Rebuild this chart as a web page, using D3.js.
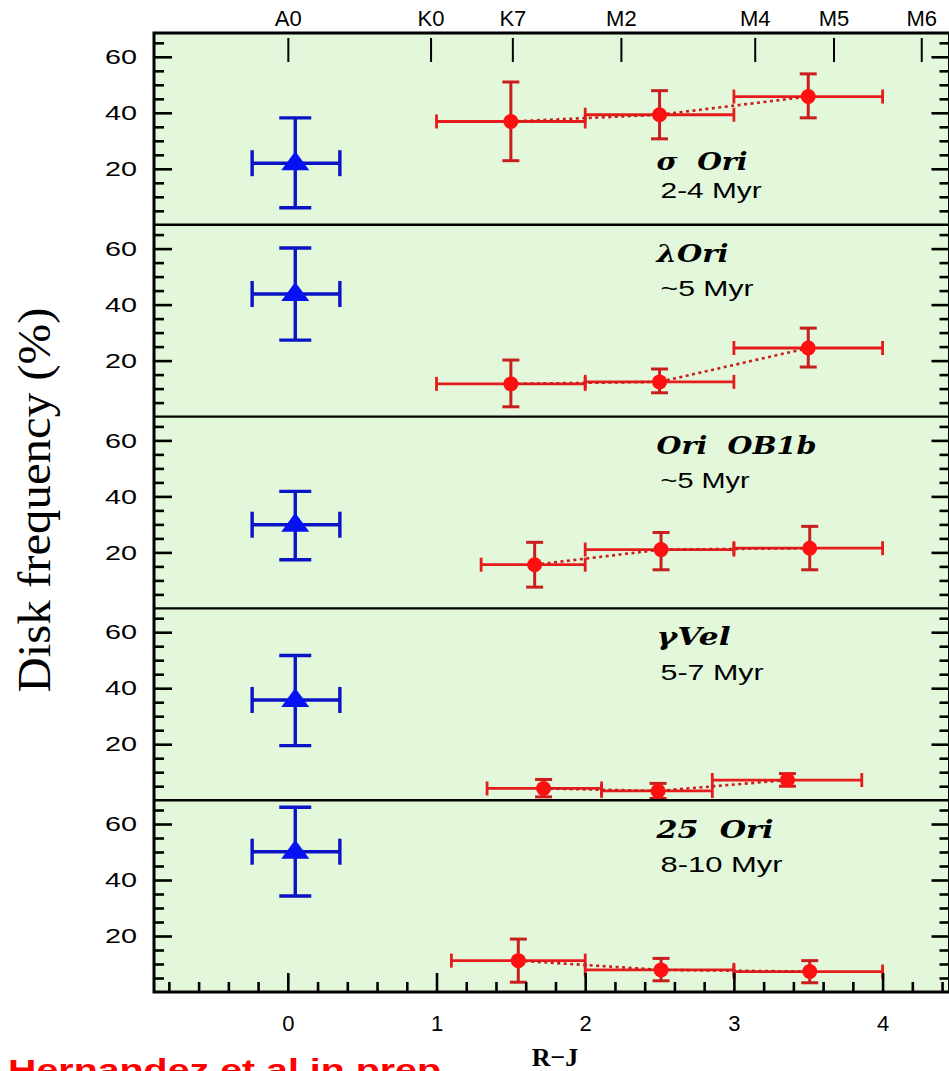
<!DOCTYPE html>
<html>
<head>
<meta charset="utf-8">
<script src="https://cdn.jsdelivr.net/npm/d3@7"></script>
<style>
  body { margin: 0; background: #fff; }
  svg { display: block; }
  text { white-space: pre; }
</style>
</head>
<body>
<svg id="chart" width="949" height="1071"></svg>
<script>
// ---- data ---------------------------------------------------------------
// Stellar groups, one panel each
const groupNames = ["σ  Ori", "λOri", "Ori  OB1b", "γVel", "25  Ori"];
const groupAges  = ["2-4 Myr", "~5 Myr", "~5 Myr", "5-7 Myr", "8-10 Myr"];

// Intermediate-mass (A-type) stars: R-J colour, bin range, disk frequency (%) and error range
const earlyX      = [0.05, 0.05, 0.05, 0.05, 0.05];
const earlyXLo    = [-0.24, -0.24, -0.24, -0.24, -0.24];
const earlyXHi    = [0.35, 0.35, 0.35, 0.35, 0.35];
const earlyFreq   = [22.0, 43.8, 29.9, 35.8, 50.1];
const earlyFreqLo = [6.1, 27.3, 17.4, 19.5, 34.3];
const earlyFreqHi = [38.2, 60.2, 41.8, 51.7, 66.0];

// Low-mass (K/M) stars, three colour bins per group
const lateX      = [[1.5, 2.5, 3.5], [1.5, 2.5, 3.5], [1.66, 2.51, 3.51], [1.72, 2.49, 3.36], [1.55, 2.51, 3.51]];
const lateXLo    = [[1, 2, 3], [1, 2, 3], [1.3, 2, 3], [1.34, 2.11, 2.855], [1.1, 2, 3]];
const lateXHi    = [[2, 3, 4], [2, 3, 4], [2, 3, 4], [2.11, 2.855, 3.86], [2, 3, 4]];
const lateFreq   = [[36.9, 39.3, 45.8], [11.7, 12.4, 24.5], [15.6, 21.0, 21.5], [4.2, 3.3, 7.2], [11.2, 7.9, 7.3]];
const lateFreqLo = [[22.9, 30.7, 38.2], [3.5, 8.5, 17.7], [7.6, 13.8, 13.8], [1.2, 0.6, 5.0], [3.5, 4.0, 3.3]];
const lateFreqHi = [[51.0, 47.9, 53.9], [20.2, 17.0, 31.6], [23.6, 27.1, 29.3], [7.4, 6.0, 9.5], [18.9, 12.0, 11.2]];

// Spectral types along the top of the first panel
const spectralTypes = ["A0", "K0", "K7", "M2", "M4", "M5", "M6"];
const spectralColor = [0.0, 0.96, 1.51, 2.24, 3.14, 3.67, 4.26];

// Axis ticks
const yMajorTicks = [20, 40, 60];
const yMinorTicks = [5, 10, 15, 25, 30, 35, 45, 50, 55, 65];
const xMajorTicks = [0, 1, 2, 3, 4];
const xMinorTicks = d3.range(-8, 45, 2).filter(v => v % 10 !== 0).map(v => v / 10);

// ---- layout ---------------------------------------------------------------
const plotLeft = 154, plotRight = 949.5, plotTop = 33, plotBottom = 992;
const nPanels = groupNames.length;
const panelH = (plotBottom - plotTop) / nPanels;
const yMax = 68.5;

// label placement (data units within each panel) and fitted text widths
const labelX = 2.48;
const titleLevel = [19.6, 55.3, 55.3, 55.3, 55.0];
const ageLevel   = [9.6, 43.1, 43.1, 43.1, 42.8];
const titleWidth = [91, 72, 160, 74, 117];
const ageWidth   = [101, 93, 89, 103, 122];

const bg = "#e3f7da";
const blueLine = "#0a14c4", blueFill = "#0612f2";
const redH = "#e61c1c", redV = "#c81e1e", redFill = "#ff1010";

const svg = d3.select("#chart");

const x = d3.scaleLinear().domain([-0.9, 4.45]).range([plotLeft, plotRight]);

// background of the plotting area
svg.append("rect")
  .attr("x", plotLeft).attr("y", plotTop)
  .attr("width", plotRight - plotLeft).attr("height", plotBottom - plotTop)
  .attr("fill", bg);

groupNames.forEach((name, i) => {
  const top = plotTop + i * panelH, bot = top + panelH;
  const y = d3.scaleLinear().domain([0, yMax]).range([bot, top]);
  const g = svg.append("g");

  // --- A-type point: error cross + triangle
  const ex = earlyX[i], ey = earlyFreq[i];
  const blue = g.append("g").attr("stroke", blueLine).attr("stroke-width", 3.4).attr("fill", "none");
  blue.append("line").attr("x1", x(earlyXLo[i])).attr("x2", x(earlyXHi[i])).attr("y1", y(ey)).attr("y2", y(ey));
  blue.append("line").attr("x1", x(ex)).attr("x2", x(ex)).attr("y1", y(earlyFreqLo[i])).attr("y2", y(earlyFreqHi[i]));
  [earlyXLo[i], earlyXHi[i]].forEach(v => blue.append("line")
    .attr("x1", x(v)).attr("x2", x(v)).attr("y1", y(ey) - 13).attr("y2", y(ey) + 13));
  [earlyFreqLo[i], earlyFreqHi[i]].forEach(v => blue.append("line")
    .attr("x1", x(ex) - 16).attr("x2", x(ex) + 16).attr("y1", y(v)).attr("y2", y(v)));
  const tx = x(ex), ty = y(ey);
  g.append("path")
    .attr("d", `M${tx},${ty - 12}L${tx + 14},${ty + 7}L${tx - 14},${ty + 7}Z`)
    .attr("fill", blueFill);

  // --- K/M bins: horizontal bin bars, vertical error bars, dotted trend, dots
  const pts = lateX[i].map((v, j) => ({
    x: v, y: lateFreq[i][j], xlo: lateXLo[i][j], xhi: lateXHi[i][j],
    ylo: lateFreqLo[i][j], yhi: lateFreqHi[i][j]
  }));
  const hb = g.append("g").attr("stroke", redH).attr("stroke-width", 2.8);
  pts.forEach(p => {
    hb.append("line").attr("x1", x(p.xlo)).attr("x2", x(p.xhi)).attr("y1", y(p.y)).attr("y2", y(p.y));
    [p.xlo, p.xhi].forEach(v => hb.append("line")
      .attr("x1", x(v)).attr("x2", x(v)).attr("y1", y(p.y) - 7).attr("y2", y(p.y) + 7));
  });
  const vb = g.append("g").attr("stroke", redV).attr("stroke-width", 3);
  pts.forEach(p => {
    vb.append("line").attr("x1", x(p.x)).attr("x2", x(p.x)).attr("y1", y(p.ylo)).attr("y2", y(p.yhi));
    [p.ylo, p.yhi].forEach(v => vb.append("line")
      .attr("x1", x(p.x) - 8.5).attr("x2", x(p.x) + 8.5).attr("y1", y(v)).attr("y2", y(v)));
  });
  g.append("path")
    .datum(pts)
    .attr("d", d3.line().x(p => x(p.x)).y(p => y(p.y)))
    .attr("fill", "none").attr("stroke", redV).attr("stroke-width", 2.6)
    .attr("stroke-dasharray", "3,3.5");
  g.selectAll("circle.late").data(pts).join("circle")
    .attr("class", "late")
    .attr("cx", p => x(p.x)).attr("cy", p => y(p.y)).attr("r", 7.5)
    .attr("fill", redFill);

  // --- y axis, left (ticks inward) and right
  const yMajor = d3.axisLeft(y).tickValues(yMajorTicks).tickSizeInner(-18).tickSizeOuter(0).tickPadding(17);
  const yAx = g.append("g").attr("transform", `translate(${plotLeft},0)`).call(yMajor);
  yAx.select(".domain").remove();
  yAx.selectAll("line").attr("stroke", "#000").attr("stroke-width", 2.6);
  yAx.selectAll("text")
    .attr("font-family", "'Liberation Sans', Arial, sans-serif").attr("font-size", 21)
    .attr("fill", "#000").attr("textLength", 32).attr("lengthAdjust", "spacingAndGlyphs");
  const yMinor = d3.axisLeft(y).tickValues(yMinorTicks).tickSizeInner(-10).tickSizeOuter(0).tickFormat("");
  const yAm = g.append("g").attr("transform", `translate(${plotLeft},0)`).call(yMinor);
  yAm.select(".domain").remove();
  yAm.selectAll("line").attr("stroke", "#000").attr("stroke-width", 2.6);

  const yR = g.append("g").attr("transform", `translate(${plotRight},0)`)
    .call(d3.axisRight(y).tickValues(yMajorTicks).tickSizeInner(-18).tickSizeOuter(0).tickFormat(""));
  yR.select(".domain").remove();
  yR.selectAll("line").attr("stroke", "#000").attr("stroke-width", 2.6);
  const yRm = g.append("g").attr("transform", `translate(${plotRight},0)`)
    .call(d3.axisRight(y).tickValues(yMinorTicks).tickSizeInner(-10).tickSizeOuter(0).tickFormat(""));
  yRm.select(".domain").remove();
  yRm.selectAll("line").attr("stroke", "#000").attr("stroke-width", 2.6);

  // --- group name and age
  g.append("text")
    .attr("x", x(labelX)).attr("y", y(titleLevel[i]))
    .attr("font-family", "'DejaVu Serif', serif").attr("font-weight", "bold").attr("font-style", "italic")
    .attr("font-size", 24).attr("fill", "#000")
    .attr("textLength", titleWidth[i]).attr("lengthAdjust", "spacingAndGlyphs")
    .text(name);
  g.append("text")
    .attr("x", x(labelX) + 4).attr("y", y(ageLevel[i]))
    .attr("font-family", "'Liberation Sans', Arial, sans-serif")
    .attr("font-size", 22).attr("fill", "#000")
    .attr("textLength", ageWidth[i]).attr("lengthAdjust", "spacingAndGlyphs")
    .text(groupAges[i]);

  // panel separator
  if (i > 0) {
    svg.append("line").attr("x1", plotLeft).attr("x2", plotRight).attr("y1", top).attr("y2", top)
      .attr("stroke", "#000").attr("stroke-width", 2.4);
  }
});

// spectral-type ticks at the top of the first panel
const spAx = svg.append("g").attr("transform", `translate(0,62)`)
  .call(d3.axisTop(x).tickValues(spectralColor).tickFormat((d, k) => spectralTypes[k])
    .tickSizeInner(24).tickSizeOuter(0).tickPadding(12));
spAx.select(".domain").remove();
spAx.selectAll("line").attr("stroke", "#000").attr("stroke-width", 2);
spAx.selectAll("text")
  .attr("font-family", "'Liberation Sans', Arial, sans-serif").attr("font-size", 22).attr("fill", "#000");

// bottom x axis
const xAx = svg.append("g").attr("transform", `translate(0,${plotBottom})`)
  .call(d3.axisBottom(x).tickValues(xMajorTicks).tickSizeInner(-19).tickSizeOuter(0).tickPadding(23)
    .tickFormat(d3.format("d")));
xAx.select(".domain").remove();
xAx.selectAll("line").attr("stroke", "#000").attr("stroke-width", 2.6);
xAx.selectAll("text")
  .attr("font-family", "'Liberation Sans', Arial, sans-serif").attr("font-size", 22).attr("fill", "#000");
const xAm = svg.append("g").attr("transform", `translate(0,${plotBottom})`)
  .call(d3.axisBottom(x).tickValues(xMinorTicks).tickSizeInner(-10).tickSizeOuter(0).tickFormat(""));
xAm.select(".domain").remove();
xAm.selectAll("line").attr("stroke", "#000").attr("stroke-width", 2.6);

// outer frame
svg.append("rect")
  .attr("x", plotLeft).attr("y", plotTop)
  .attr("width", plotRight - plotLeft).attr("height", plotBottom - plotTop)
  .attr("fill", "none").attr("stroke", "#000").attr("stroke-width", 3);

// axis titles
svg.append("text")
  .attr("transform", `translate(50,500) rotate(-90)`)
  .attr("text-anchor", "middle")
  .attr("font-family", "'Liberation Serif', 'DejaVu Serif', serif").attr("font-size", 46)
  .attr("fill", "#000").attr("textLength", 385).attr("lengthAdjust", "spacingAndGlyphs")
  .text("Disk frequency (%)");

svg.append("text")
  .attr("x", 555).attr("y", 1066).attr("text-anchor", "middle")
  .attr("font-family", "'Liberation Serif', 'DejaVu Serif', serif").attr("font-weight", "bold")
  .attr("font-size", 26).attr("fill", "#000")
  .text("R\u2212J");

// credit line
svg.append("text")
  .attr("x", 8).attr("y", 1080)
  .attr("font-family", "'Liberation Sans', Arial, sans-serif").attr("font-weight", "bold")
  .attr("font-size", 30).attr("fill", "#ff0000")
  .attr("textLength", 444).attr("lengthAdjust", "spacingAndGlyphs")
  .text("Hernandez et al in prep.");
</script>
</body>
</html>
